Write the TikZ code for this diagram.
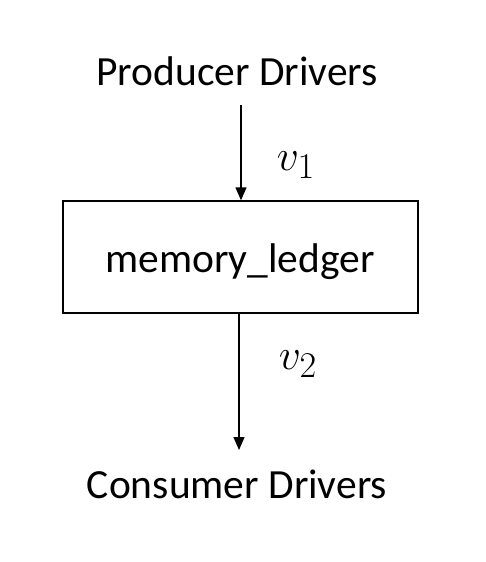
\documentclass[tikz,border=0pt]{standalone}
\usepackage{fontspec}
\usepackage{graphicx}
\setmainfont{Carlito}
\usetikzlibrary{arrows.meta}
\begin{document}
\begin{tikzpicture}[x=1pt,y=-1pt,
  lbl/.style={font=\fontsize{41.5}{48}\selectfont, inner sep=0pt},
  mlbl/.style={font=\fontsize{24.88}{30}\selectfont, inner sep=0pt},
  flow/.style={line width=1.4pt, -{Triangle[length=13pt,width=11pt]}},
  boxst/.style={draw, line width=1.4pt, minimum width=355pt, minimum height=112pt, inner sep=0pt}]
\useasboundingbox (0,0) rectangle (486,562);
\node[lbl, anchor=base] (prod) at (237,85) {Producer Drivers};
\node[boxst] (box) at (240.5,257) {};
\node[lbl, anchor=base] (mem) at (240,272) {memory\_ledger};
\node[lbl, anchor=base] (cons) at (237,498) {Consumer Drivers};
\coordinate (a1s) at (241,105);
\coordinate (a2e) at (239,450);
\draw[flow] (a1s) -- (a1s |- box.north);
\draw[flow] (box.south -| a2e) -- (a2e);
\node[mlbl] (v1) at (296,165) {\scalebox{1.75}{$v_1$}};
\node[mlbl] (v2) at (298,364) {\scalebox{1.75}{$v_2$}};
\end{tikzpicture}
\end{document}
